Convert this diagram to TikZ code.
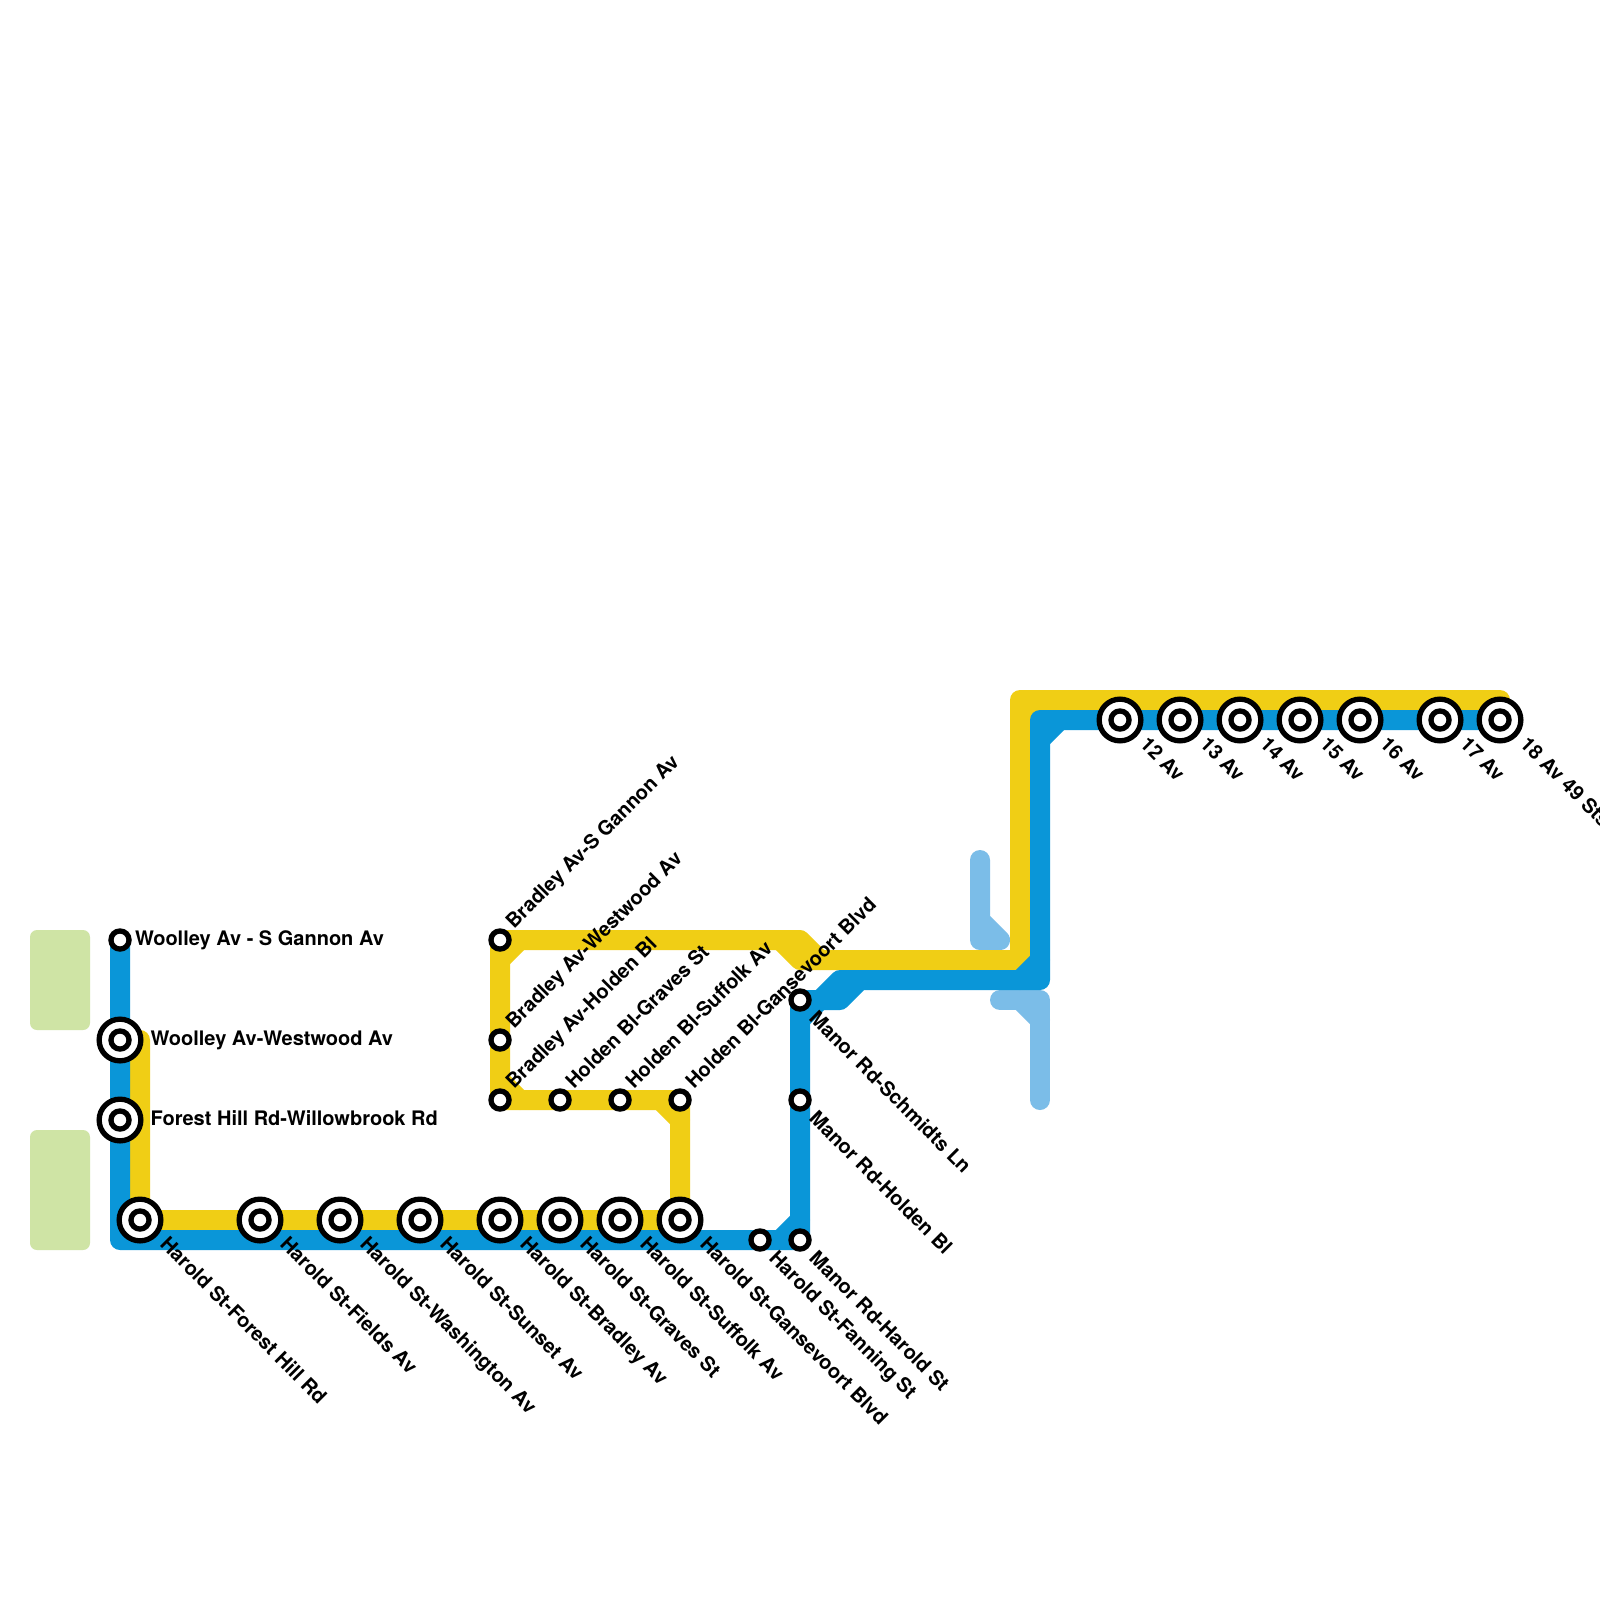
\documentclass[tikz,border=0pt]{standalone}
\usepackage{fontspec}
\setmainfont{TeX Gyre Heros}
\definecolor{lineblue}{HTML}{0A96D8}
\definecolor{lineyellow}{HTML}{F0CE15}
\definecolor{paleblue}{HTML}{7BBDE8}
\definecolor{parkgreen}{HTML}{CFE4A5}
\tikzset{
  x=0.5pt,y=-0.5pt,
  metro/.style={line width=10pt,line join=round,line cap=round},
  blueline/.style={metro,draw=lineblue},
  yellowline/.style={metro,draw=lineyellow},
  paleline/.style={metro,draw=paleblue},
  park/.style={fill=parkgreen,rounded corners=3.5pt,draw=none},
  smallstop/.style={circle,draw=black,fill=white,line width=2.65pt,inner sep=0pt,outer sep=0pt,minimum size=9.05pt},
  bigouter/.style={circle,draw=black,fill=white,line width=2.65pt,inner sep=0pt,outer sep=0pt,minimum size=20.85pt},
  biginner/.style={circle,draw=black,fill=white,line width=2.65pt,inner sep=0pt,outer sep=0pt,minimum size=9.05pt},
  lab/.style={inner sep=0pt,outer sep=0pt,font=\fontsize{10}{12}\selectfont\bfseries,text=black},
  labright/.style={lab,xshift=15.3pt,yshift=-2.5pt,anchor=base west},
  labrightsmall/.style={lab,xshift=7.5pt,yshift=-2.5pt,anchor=base west},
  labdownbig/.style={lab,xshift=9.5pt,yshift=-12.8pt,rotate=-45,anchor=base west},
  labdownsmall/.style={lab,xshift=4pt,yshift=-9.8pt,rotate=-45,anchor=base west},
  labup/.style={lab,xshift=7pt,yshift=5.2pt,rotate=45,anchor=base west},
}
\begin{document}
\begin{tikzpicture}
\useasboundingbox[fill=white] (0,0) rectangle (1600,1600);

% parks
\fill[park] (30,930) rectangle (90,1030);
\fill[park] (30,1130) rectangle (90,1250);

% junction coordinates
\foreach \n/\x/\y in {
  wgannon/120/940, wwest/120/1040, forest/120/1120, hforest/140/1220,
  hfields/260/1220, hwash/340/1220, hsunset/420/1220, hbradley/500/1220,
  hgraves/560/1220, hsuffolk/620/1220, hgans/680/1220, hfanning/760/1240,
  mharold/800/1240, mholden/800/1100, mschmidts/800/1000,
  bgannon/500/940, bwest/500/1040, bholden/500/1100, hogr/560/1100,
  hosu/620/1100, hoga/680/1100,
  av12/1120/720, av13/1180/720, av14/1240/720, av15/1300/720,
  av16/1360/720, av17/1440/720, av18/1500/720,
  ya/140/1040, yb/500/960, yc/520/940, yd/500/1080, ye/520/1100,
  yf/660/1100, yg/680/1120, yh/780/940, yi/800/960, yj/800/940,
  yk/820/960, yl/1020/960, ym/1020/700, yn/1500/700, yo/1020/720, yp/1040/700,
  ba/120/1240, bb/780/1240, bc/800/1220, bd/800/1020, be/820/1000,
  bf/840/980, bg/840/1000, bh/860/980, bi/1040/980, bj/1020/980,
  bk/1040/960, bl/1040/740, bm/1060/720, bn/1040/720,
  pa/980/860, pb/980/940, pc/1000/940, pd/980/920,
  pe/1000/1000, pf/1040/1000, pg/1040/1100, ph/1020/1000, pi/1040/1020}
  {\coordinate (\n) at (\x,\y);}

% pale lines
\draw[paleline] (pa) -- (pb) -- (pc) -- (pd);
\draw[paleline] (pe) -- (pf) -- (pg);
\draw[paleline] (ph) -- (pi);

% yellow line
\draw[yellowline] (ya) -- (hforest) -- (hgans) -- (hoga) -- (bholden) -- (bgannon) -- (yj) -- (yk) -- (yl) -- (ym) -- (yn);
\draw[yellowline] (yb) -- (yc);
\draw[yellowline] (yd) -- (ye);
\draw[yellowline] (yf) -- (yg);
\draw[yellowline] (yo) -- (yp);
\fill[lineyellow] (yh) -- (yj) -- (yk) -- (yi) -- cycle;
\draw[yellowline] (yh) -- (yi) -- (yk);

% blue line
\draw[blueline] (wgannon) -- (ba) -- (mharold) -- (mschmidts) -- (bg) -- (bh) -- (bi) -- (bn) -- (av18);
\draw[blueline] (bb) -- (bc);
\draw[blueline] (bd) -- (be);
\draw[blueline] (be) -- (bf) -- (bh);
\fill[lineblue] (be) -- (bf) -- (bh) -- (bg) -- cycle;
\draw[blueline] (bj) -- (bk);
\draw[blueline] (bl) -- (bm);

% small stations
\foreach \n in {wgannon,bgannon,bwest,bholden,hogr,hosu,hoga,mschmidts,mholden,mharold,hfanning}
  \node[smallstop] (st-\n) at (\n) {};
% interchange stations
\foreach \n in {wwest,forest,hforest,hfields,hwash,hsunset,hbradley,hgraves,hsuffolk,hgans,av12,av13,av14,av15,av16,av17,av18}{
  \node[bigouter] (st-\n) at (\n) {};
  \node[biginner] (in-\n) at (\n) {};
}

% labels
\node[labrightsmall] (l1) at (wgannon) {Woolley Av - S Gannon Av};
\node[labright] (l2) at (wwest) {Woolley Av-Westwood Av};
\node[labright] (l3) at (forest) {Forest Hill Rd-Willowbrook Rd};
\node[labdownbig] (l4) at (hforest) {Harold St-Forest Hill Rd};
\node[labdownbig] (l5) at (hfields) {Harold St-Fields Av};
\node[labdownbig] (l6) at (hwash) {Harold St-Washington Av};
\node[labdownbig] (l7) at (hsunset) {Harold St-Sunset Av};
\node[labdownbig] (l8) at (hbradley) {Harold St-Bradley Av};
\node[labdownbig] (l9) at (hgraves) {Harold St-Graves St};
\node[labdownbig] (l10) at (hsuffolk) {Harold St-Suffolk Av};
\node[labdownbig] (l11) at (hgans) {Harold St-Gansevoort Blvd};
\node[labdownsmall] (l12) at (hfanning) {Harold St-Fanning St};
\node[labdownsmall] (l13) at (mharold) {Manor Rd-Harold St};
\node[labdownsmall] (l14) at (mholden) {Manor Rd-Holden Bl};
\node[labdownsmall] (l15) at (mschmidts) {Manor Rd-Schmidts Ln};
\node[labup] (l16) at (bgannon) {Bradley Av-S Gannon Av};
\node[labup] (l17) at (bwest) {Bradley Av-Westwood Av};
\node[labup] (l18) at (bholden) {Bradley Av-Holden Bl};
\node[labup] (l19) at (hogr) {Holden Bl-Graves St};
\node[labup] (l20) at (hosu) {Holden Bl-Suffolk Av};
\node[labup] (l21) at (hoga) {Holden Bl-Gansevoort Blvd};
\node[labdownbig] (l22) at (av12) {12 Av};
\node[labdownbig] (l23) at (av13) {13 Av};
\node[labdownbig] (l24) at (av14) {14 Av};
\node[labdownbig] (l25) at (av15) {15 Av};
\node[labdownbig] (l26) at (av16) {16 Av};
\node[labdownbig] (l27) at (av17) {17 Av};
\node[labdownbig] (l28) at (av18) {18 Av 49 Sts};
\end{tikzpicture}
\end{document}
